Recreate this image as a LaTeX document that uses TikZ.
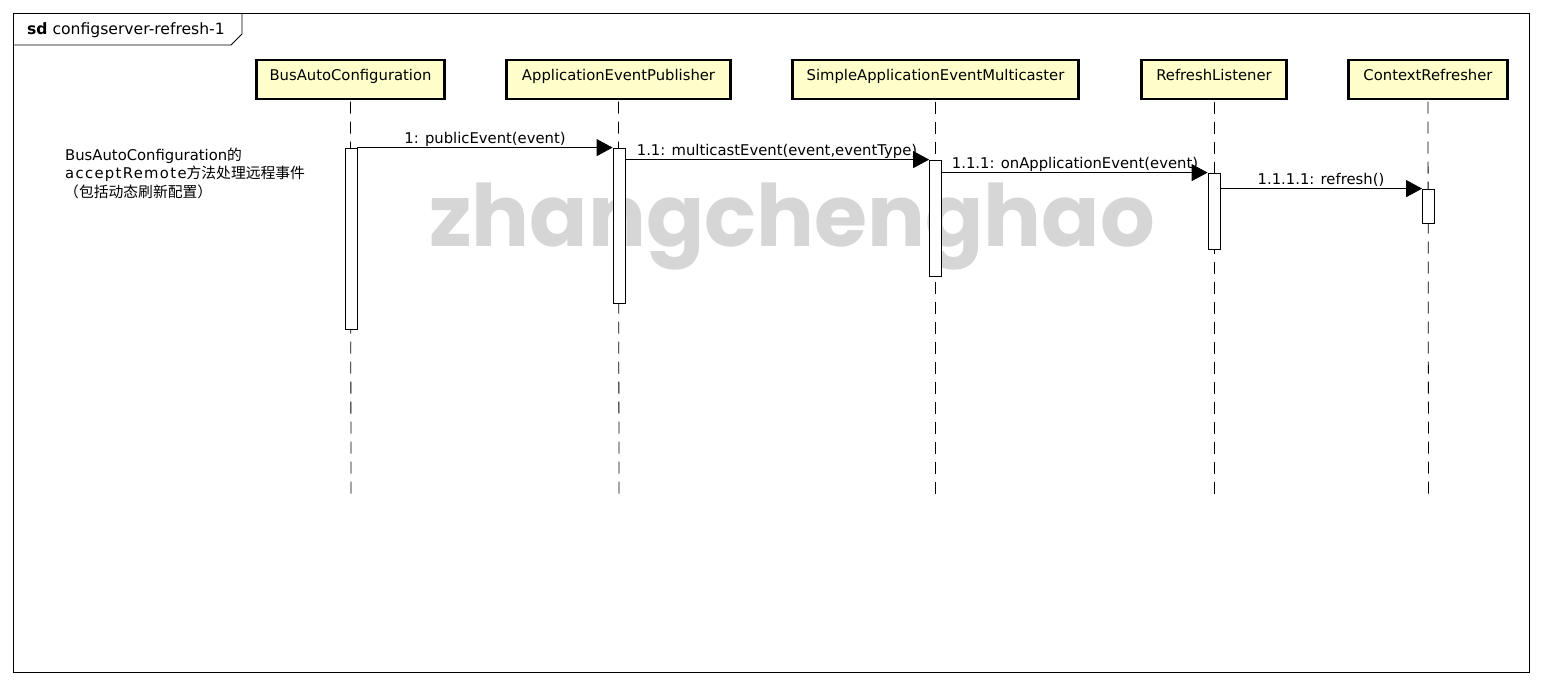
\documentclass[tikz,border=0pt]{standalone}
\usepackage{fontspec}
\setmainfont{DejaVu Sans}
\newfontfamily\cjk{Noto Sans CJK SC}
\newfontfamily\wmfont{Poppins}
\newfontfamily\spacedfont[LetterSpace=9]{DejaVu Sans}
\usetikzlibrary{arrows.meta}
\definecolor{headfill}{RGB}{255,255,204}
\definecolor{wmgray}{RGB}{214,214,214}
\begin{document}
\begin{tikzpicture}[x=1pt,y=-1pt,
  txt/.style={font=\fontsize{14.8}{17}\selectfont, inner sep=0pt},
  headbox/.style={draw, line width=2.6pt, fill=headfill, minimum height=39pt, inner sep=0pt},
  act/.style={draw, line width=0.8pt, fill=white, minimum width=12pt, inner sep=0pt},
  life/.style={line width=0.8pt, dash pattern=on 12pt off 8pt},
  msg/.style={line width=0.8pt, -{Triangle[length=16pt,width=17pt]}},
  lbl/.style={txt, anchor=base}]
\useasboundingbox (0,0) rectangle (1542,685);
\fill[white] (0,0) rectangle (1542,685);

% watermark
\node[font=\wmfont\bfseries\fontsize{86}{100}\selectfont, text=wmgray, anchor=base, inner sep=0pt] (wm) at (792,246) {zhangchenghao};

% frame
\draw[line width=0.8pt] (13,13) rectangle (1529,672);
\draw[line width=0.8pt] (13,45) -- (231,45) -- (242,34) -- (242,13);
\node[txt, font=\fontsize{15.6}{18}\selectfont, anchor=base west] (title) at (27,35) {\textbf{sd} configserver-refresh-1};

% lifeline heads
\node[headbox, minimum width=188pt] (h1) at (350.5,79.5) {};
\node[headbox, minimum width=224pt] (h2) at (618.5,79.5) {};
\node[headbox, minimum width=286pt] (h3) at (935.5,79.5) {};
\node[headbox, minimum width=145pt] (h4) at (1214,79.5) {};
\node[headbox, minimum width=159pt] (h5) at (1428,79.5) {};
\node[lbl] (t1) at (350.5,81) {BusAutoConfiguration};
\node[lbl] (t2) at (618.5,81) {ApplicationEventPublisher};
\node[lbl] (t3) at (935.5,81) {SimpleApplicationEventMulticaster};
\node[lbl] (t4) at (1214,81) {RefreshListener};
\node[lbl] (t5) at (1428,81) {ContextRefresher};

% lifelines
\coordinate (e1) at (351,498);
\coordinate (e2) at (619,498);
\coordinate (e3) at (935.5,498);
\coordinate (e4) at (1214,498);
\coordinate (e5) at (1428.5,498);
\draw[life] (h1.south) ++(0,1.3) -- (e1);
\draw[life] (h2.south) ++(0,1.3) -- (e2);
\draw[life] (h3.south) ++(0,1.3) -- (e3);
\draw[life] (h4.south) ++(0,1.3) -- (e4);
\draw[life] (h5.south) ++(0,1.3) -- (e5);

% activations
\node[act, minimum height=181pt] (a1) at (351,238.5) {};
\node[act, minimum height=155pt] (a2) at (619,225.5) {};
\node[act, minimum height=116pt] (a3) at (935.5,218) {};
\node[act, minimum height=76pt] (a4) at (1214,211) {};
\node[act, minimum height=34pt] (a5) at (1428.5,206) {};

% messages
\draw[msg] (a1.north east) -- (a2.north west);
\draw[msg] (a2.east |- a3.north west) -- (a3.north west);
\draw[msg] (a3.east |- a4.north west) -- (a4.north west);
\draw[msg] (a4.east |- a5.north west) -- (a5.north west);
\node[lbl] (m1) at (485,143) {1: publicEvent(event)};
\node[lbl] (m2) at (777,155) {1.1: multicastEvent(event,eventType)};
\node[lbl] (m3) at (1075,168) {1.1.1: onApplicationEvent(event)};
\node[lbl] (m4) at (1321,184) {1.1.1.1: refresh()};

% note
\node[txt, anchor=base west] (n1) at (65,160) {BusAutoConfiguration{\cjk 的}};
\node[txt, anchor=base west] (n2) at (65,178.5) {{\spacedfont acceptRemote}{\cjk 方法处理远程事件}};
\node[txt, anchor=base west] (n3) at (64,197) {{\cjk （包括动态刷新配置）}};
\end{tikzpicture}
\end{document}
